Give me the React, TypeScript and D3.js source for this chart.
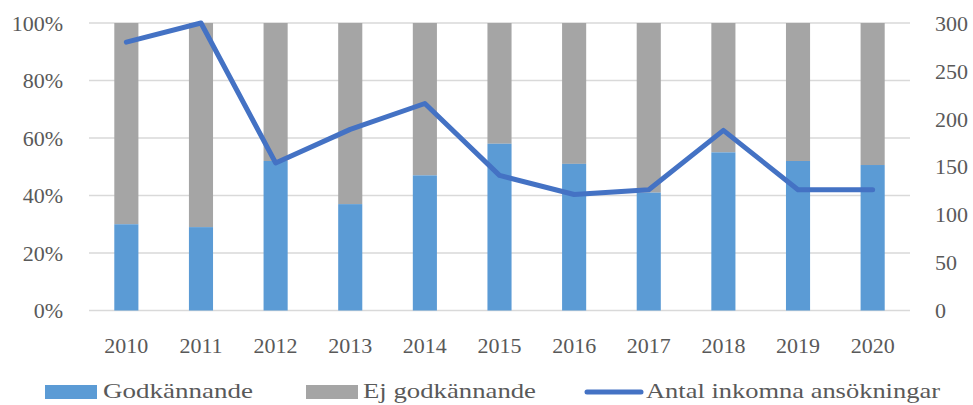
import React from "react";
import * as d3 from "d3";

const years = ["2010","2011","2012","2013","2014","2015","2016","2017","2018","2019","2020"];
const approvedPct = [30, 29, 52, 37, 47, 58, 51, 41, 55, 52, 50.6];
const applications = [280, 300, 154, 189, 216, 141, 121, 126, 188, 126, 126];
const leftTicks = [0, 20, 40, 60, 80, 100];
const rightTicks = [0, 50, 100, 150, 200, 250, 300];
const legendLabels = ["Godkännande", "Ej godkännande", "Antal inkomna ansökningar"];

const W = 973, H = 405;
const left = 89, right = 910, top = 23, bottom = 310.5;
const font = "'Liberation Serif', 'Times New Roman', serif";
const textColor = "#595959";

export default function App() {
  const x = d3.scaleBand<string>().domain(years).range([left, right]).paddingInner(0.677).paddingOuter(0.339);
  const yL = d3.scaleLinear().domain([0, 100]).range([bottom, top]);
  const yR = d3.scaleLinear().domain([0, 300]).range([bottom, top]);
  const bw = x.bandwidth();
  const line = d3.line<number>()
    .x((_, i) => (x(years[i]) as number) + bw / 2)
    .y(d => yR(d));

  return (
    <svg width={W} height={H} style={{ position: "absolute", left: 0, top: 0, background: "#fff" }}>
      {leftTicks.map(t => (
        <line key={"g" + t} x1={left} x2={right} y1={yL(t)} y2={yL(t)} stroke="#D9D9D9" strokeWidth={1.5} />
      ))}
      {years.map((yr, i) => (
        <g key={yr}>
          <rect x={x(yr)} y={yL(100)} width={bw} height={yL(approvedPct[i]) - yL(100)} fill="#A5A5A5" />
          <rect x={x(yr)} y={yL(approvedPct[i])} width={bw} height={yL(0) - yL(approvedPct[i])} fill="#5B9BD5" />
        </g>
      ))}
      <path d={line(applications) || ""} fill="none" stroke="#4472C4" strokeWidth={5} strokeLinejoin="round" strokeLinecap="round" />
      {leftTicks.map(t => (
        <text key={"l" + t} x={63} y={yL(t)} dy="0.35em" textAnchor="end" fontFamily={font} fontSize={22} fill={textColor}>{t}%</text>
      ))}
      {rightTicks.map(t => (
        <text key={"r" + t} x={935} y={yR(t)} dy="0.35em" textAnchor="start" fontFamily={font} fontSize={22} fill={textColor}>{t}</text>
      ))}
      {years.map(yr => (
        <text key={"x" + yr} x={(x(yr) as number) + bw / 2} y={353} textAnchor="middle" fontFamily={font} fontSize={22} fill={textColor}>{yr}</text>
      ))}
      <rect x={45} y={385} width={52} height={14} fill="#5B9BD5" />
      <text x={103} y={398} fontFamily={font} fontSize={22} fill={textColor} textLength={150} lengthAdjust="spacingAndGlyphs">{legendLabels[0]}</text>
      <rect x={306} y={385} width={52} height={14} fill="#A5A5A5" />
      <text x={363} y={398} fontFamily={font} fontSize={22} fill={textColor} textLength={173} lengthAdjust="spacingAndGlyphs">{legendLabels[1]}</text>
      <line x1={587} x2={641} y1={392} y2={392} stroke="#4472C4" strokeWidth={5} strokeLinecap="round" />
      <text x={646} y={398} fontFamily={font} fontSize={22} fill={textColor} textLength={294} lengthAdjust="spacingAndGlyphs">{legendLabels[2]}</text>
    </svg>
  );
}
